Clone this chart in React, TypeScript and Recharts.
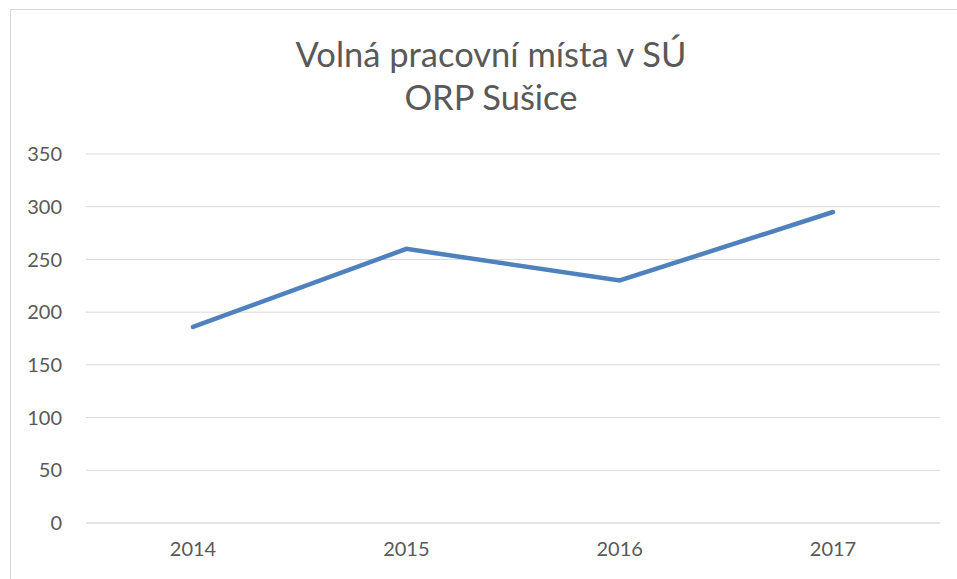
import React from "react"
import { LineChart, Line, XAxis, YAxis, CartesianGrid } from "recharts"

const years = ["2014", "2015", "2016", "2017"]
const vacancies = [186, 260, 230, 295]
const yTicks = [0, 50, 100, 150, 200, 250, 300, 350]

const data = years.map((year, i) => ({ year, value: vacancies[i] }))

const font = "Lato, 'Open Sans', sans-serif"
const textColor = "#595959"

export default function App() {
  return (
    <div
      style={{
        position: "absolute",
        left: 0,
        top: 0,
        width: 957,
        height: 579,
        overflow: "hidden",
        background: "#fff",
        fontFamily: font,
      }}
    >
      {/* chart frame */}
      <div
        style={{
          position: "absolute",
          left: 10,
          top: 9,
          width: 970,
          height: 600,
          border: "1px solid #d9d9d9",
        }}
      />
      <div
        style={{
          position: "absolute",
          left: 0,
          top: 32,
          width: 982,
          textAlign: "center",
          fontSize: 34.5,
          lineHeight: "43px",
          color: textColor,
        }}
      >
        Volná pracovní místa v SÚ
        <br />
        ORP Sušice
      </div>
      <div style={{ position: "absolute", left: 0, top: 0 }}>
        <LineChart
          width={957}
          height={579}
          data={data}
          margin={{ top: 154, right: 17, bottom: 26, left: 26 }}
        >
          <CartesianGrid vertical={false} stroke="#d9d9d9" strokeWidth={1} />
          <XAxis
            dataKey="year"
            padding={{ left: 107, right: 107 }}
            axisLine={{ stroke: "#d9d9d9" }}
            tickLine={false}
            tickSize={0}
            tickMargin={19}
            tick={{ fill: textColor, fontSize: 20, fontFamily: font }}
          />
          <YAxis
            width={60}
            domain={[0, 350]}
            ticks={yTicks}
            axisLine={false}
            tickLine={false}
            tickSize={0}
            tickMargin={24}
            tick={{ fill: textColor, fontSize: 20, fontFamily: font }}
          />
          <Line
            type="linear"
            dataKey="value"
            stroke="#4f81bd"
            strokeWidth={4.5}
            dot={false}
            strokeLinecap="round"
            isAnimationActive={false}
          />
        </LineChart>
      </div>
    </div>
  )
}
